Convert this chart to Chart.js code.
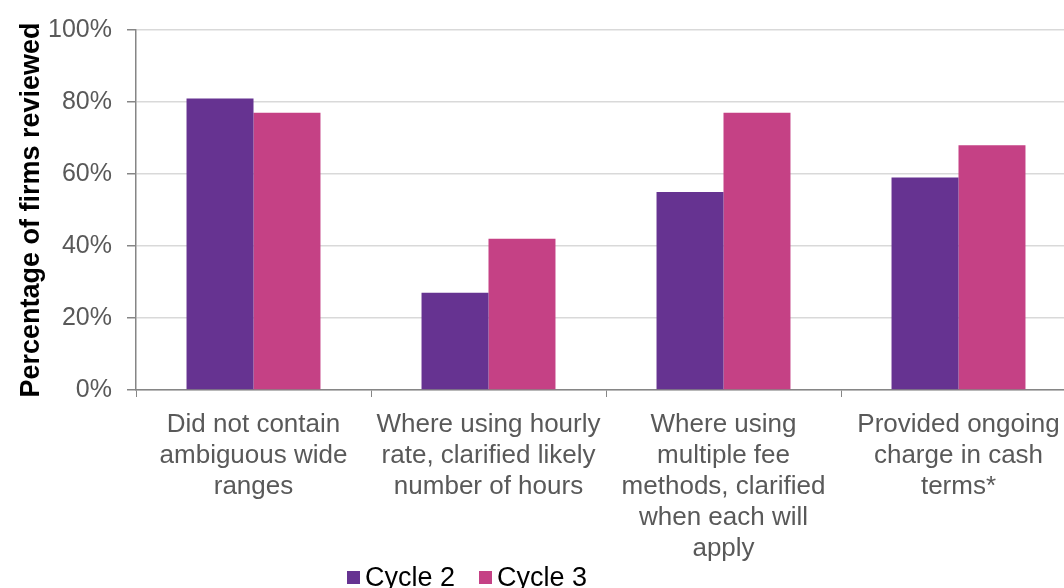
<!DOCTYPE html>
<html>
<head>
<meta charset="utf-8">
<script src="https://cdn.jsdelivr.net/npm/chart.js@4"></script>
<style>
  body { margin: 0; overflow: hidden; background: #fff; font-family: "Liberation Sans", Arial, sans-serif; }
  #wrap { position: relative; width: 1080px; height: 588px; }
  #legend { position: absolute; left: 347px; top: 561px; font-size: 27px; line-height: 32px; color: #000; white-space: nowrap; }
  #legend span.box { display: inline-block; width: 13px; height: 13px; margin-right: 5px; vertical-align: 2px; }
  #legend span.item { margin-right: 24px; }
</style>
</head>
<body>
<div id="wrap">
  <canvas id="myChart" width="1080" height="588"></canvas>
  <div id="legend"></div>
</div>
<script>
var categories = [
    ['Did not contain', 'ambiguous wide', 'ranges'],
    ['Where using hourly', 'rate, clarified likely', 'number of hours'],
    ['Where using', 'multiple fee', 'methods, clarified', 'when each will', 'apply'],
    ['Provided ongoing', 'charge in cash', 'terms*']
];
var cycle2 = [81, 27, 55, 59];
var cycle3 = [77, 42, 77, 68];
var seriesNames = ['Cycle 2', 'Cycle 3'];
var seriesColors = ['#663391', '#C54185'];

const data = {
    labels: categories,
    datasets: [{
        label: seriesNames[0],
        backgroundColor: seriesColors[0],
        data: cycle2
    }, {
        label: seriesNames[1],
        backgroundColor: seriesColors[1],
        data: cycle3
    }]
};

const config = {
    type: 'bar',
    data: data,
    options: {
        responsive: false,
        animation: false,
        datasets: {
            bar: { categoryPercentage: 0.57, barPercentage: 1.0 }
        },
        layout: { padding: { top: 28, right: 4, left: 0, bottom: 0 } },
        plugins: {
            legend: { display: false },
            tooltip: { enabled: false }
        },
        scales: {
            y: {
                min: 0,
                max: 100,
                ticks: {
                    stepSize: 20,
                    padding: 15,
                    color: '#595959',
                    font: { family: 'Liberation Sans', size: 25 },
                    callback: function (v) { return v + '%'; }
                },
                grid: { color: '#d9d9d9', tickColor: '#868686', tickLength: 9, lineWidth: 1.5 },
                border: { color: '#868686', width: 1.5 },
                title: {
                    display: true,
                    text: 'Percentage of firms reviewed',
                    color: '#000',
                    font: { family: 'Liberation Sans', size: 27, weight: 'bold' },
                    padding: { top: 15, bottom: 0 }
                },
                afterFit: function (axis) { axis.width = 136; }
            },
            x: {
                ticks: {
                    color: '#595959',
                    padding: 12,
                    maxRotation: 0,
                    autoSkip: false,
                    font: { family: 'Liberation Sans', size: 26, lineHeight: '31px' }
                },
                grid: { drawOnChartArea: false, offset: true, color: '#868686', tickLength: 7 },
                border: { color: '#868686', width: 1.5 },
                afterFit: function (axis) { axis.height = 198; }
            }
        }
    }
};

const myChart = new Chart(document.getElementById('myChart'), config);

var legendHtml = '';
for (var k = 0; k < seriesNames.length; k++) {
    legendHtml += '<span class="item"><span class="box" style="background:' + seriesColors[k] + '"></span>' + seriesNames[k] + '</span>';
}
document.getElementById('legend').innerHTML = legendHtml;
</script>
</body>
</html>
